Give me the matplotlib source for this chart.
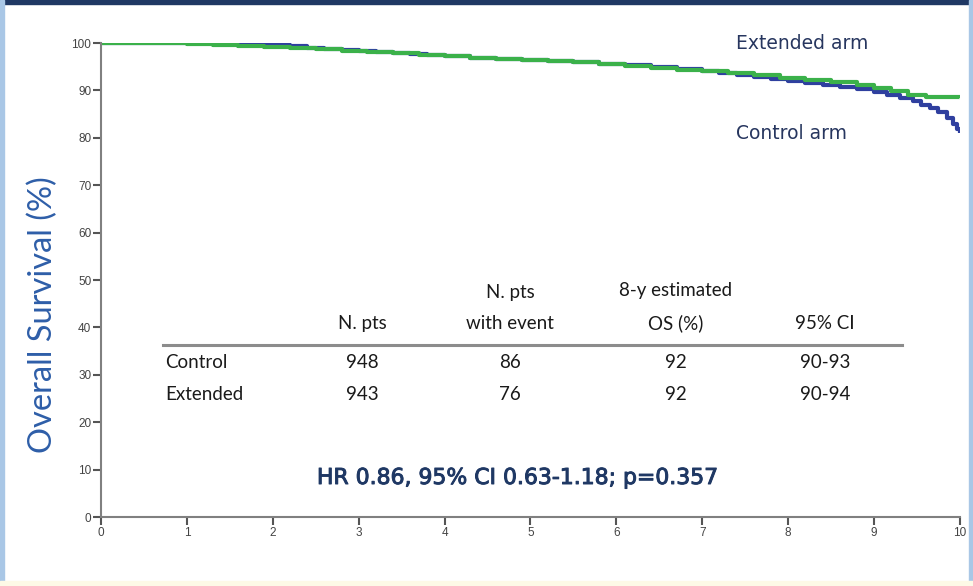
import matplotlib.pyplot as plt
import matplotlib.patheffects as pe
from matplotlib.patches import Rectangle

# survival curves (years, % alive)
t_control = [0, 0.5, 1.0, 1.5, 1.8, 2.0, 2.2, 2.4, 2.6, 2.8, 3.0, 3.2, 3.4, 3.6, 3.8, 4.0,
             4.3, 4.6, 4.9, 5.2, 5.5, 5.8, 6.1, 6.4, 6.7, 7.0, 7.2, 7.4, 7.6, 7.8, 8.0,
             8.2, 8.4, 8.6, 8.8, 9.0, 9.15, 9.3, 9.45, 9.55, 9.65, 9.75, 9.85, 9.92, 9.97, 10.0]
s_control = [100, 100, 99.9, 99.8, 99.7, 99.5, 99.3, 99.0, 98.8, 98.6, 98.4, 98.1, 97.9, 97.7, 97.4, 97.2,
             96.9, 96.6, 96.4, 96.1, 95.9, 95.6, 95.3, 94.9, 94.5, 94.0, 93.7, 93.3, 92.9, 92.5, 92.0,
             91.6, 91.2, 90.8, 90.3, 89.6, 89.0, 88.4, 87.8, 87.0, 86.2, 85.4, 84.2, 83.0, 81.8, 81.0]
t_extended = [0, 0.5, 1.0, 1.3, 1.6, 1.9, 2.2, 2.5, 2.8, 3.1, 3.4, 3.7, 4.0, 4.3, 4.6, 4.9,
              5.2, 5.5, 5.8, 6.1, 6.4, 6.7, 7.0, 7.3, 7.6, 7.9, 8.2, 8.5, 8.8, 9.0, 9.2, 9.4, 9.6, 10.0]
s_extended = [100, 99.9, 99.7, 99.5, 99.3, 99.1, 98.9, 98.7, 98.4, 98.1, 97.8, 97.5, 97.2, 96.9, 96.7, 96.5,
              96.2, 95.9, 95.6, 95.2, 94.8, 94.4, 94.1, 93.7, 93.2, 92.7, 92.2, 91.7, 91.1, 90.5, 89.8, 89.1, 88.6, 88.4]

xticks = list(range(0, 11))
yticks = list(range(0, 101, 10))

col_headers = ["N. pts", "N. pts\nwith event", "8-y estimated\nOS (%)", "95% CI"]
row_names = ["Control", "Extended"]
table_vals = [["948", "86", "92", "90-93"],
              ["943", "76", "92", "90-94"]]
hr_text = "HR 0.86, 95% CI 0.63-1.18; p=0.357"

fig = plt.figure(figsize=(9.73, 5.86), dpi=100)
fig.patch.set_facecolor("white")

# frame decorations
fig.patches.append(Rectangle((0, 0.994), 1, 0.006, transform=fig.transFigure, color="#1f3864"))
fig.patches.append(Rectangle((0, 0), 0.004, 1, transform=fig.transFigure, color="#a9c7e6"))
fig.patches.append(Rectangle((0.996, 0), 0.004, 1, transform=fig.transFigure, color="#a9c7e6"))
fig.patches.append(Rectangle((0, 0), 1, 0.008, transform=fig.transFigure, color="#fdf9e6"))

ax = fig.add_axes([0.1038, 0.1177, 0.8828, 0.8089])
ax.step(t_control, s_control, where="post", color="#2f3f9f", lw=3.0, solid_capstyle="butt")
ax.step(t_extended, s_extended, where="post", color="#3bb14a", lw=3.0, solid_capstyle="butt")

ax.set_xlim(0, 10)
ax.set_ylim(0, 100)
ax.set_xticks(xticks)
ax.set_yticks(yticks)
for s in ["top", "right"]:
    ax.spines[s].set_visible(False)
for s in ["left", "bottom"]:
    ax.spines[s].set_color("#808080")
    ax.spines[s].set_linewidth(1.5)
ax.tick_params(axis="both", colors="#555555", labelsize=8.5, width=1.5, length=6, labelcolor="#444444")
ax.tick_params(axis="x", pad=1)
ax.tick_params(axis="y", pad=1)
for lab in ax.get_xticklabels() + ax.get_yticklabels():
    lab.set_family("Liberation Sans")


def fx(px):
    return px / 973


def fy(py):
    return 1 - py / 586


fig.text(fx(43), fy(315), "Overall Survival (%)", rotation=90, ha="center", va="center",
         fontsize=23.5, color="#2e5ea8", family="Lato")

ax.text(0.7395, 0.998, "Extended arm", transform=ax.transAxes, fontsize=13.5,
        color="#27365f", family="DejaVu Sans", va="center", ha="left")
ax.text(0.7395, 0.81, "Control arm", transform=ax.transAxes, fontsize=13.5,
        color="#27365f", family="DejaVu Sans", va="center", ha="left")

# table
col_x = [362, 510, 676, 825]
fs = 13.5
for cx, h in zip(col_x, col_headers):
    fig.text(fx(cx), fy(329), h, ha="center", va="baseline", fontsize=fs, family="Lato",
             color="#1a1a1a", linespacing=2.0)
fig.add_artist(plt.Line2D([fx(163), fx(902)], [fy(345), fy(345)], color="#8c8c8c", lw=2.2))
for ri, (rn, vals) in enumerate(zip(row_names, table_vals)):
    yy = fy(368 + ri * 32)
    fig.text(fx(165), yy, rn, ha="left", va="baseline", fontsize=fs, family="Lato", color="#1a1a1a")
    for cx, v in zip(col_x, vals):
        fig.text(fx(cx), yy, v, ha="center", va="baseline", fontsize=fs, family="Lato", color="#1a1a1a")

fig.text(fx(518), fy(478), hr_text, ha="center", va="center", fontsize=15.8,
         family="DejaVu Sans", color="#1f3864",
         path_effects=[pe.withStroke(linewidth=0.7, foreground="#1f3864")])

fig.savefig("out.png", dpi=100)
